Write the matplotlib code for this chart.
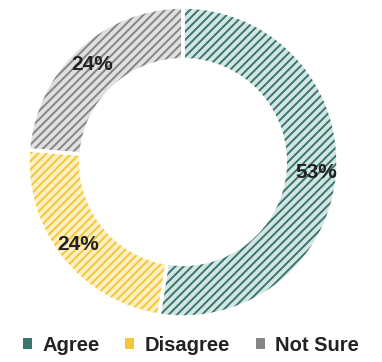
import matplotlib
matplotlib.use('Agg')
import matplotlib.pyplot as plt
import numpy as np

# survey answer shares (percent)
categories = ['Agree', 'Disagree', 'Not Sure']
shares = [53, 24, 24]
face_cols = ['#d3e6e3', '#fdf0c4', '#e0e0e0']
hatch_cols = ['#3a766e', '#f5c638', '#858585']

plt.rcParams['font.family'] = ['Liberation Sans Narrow', 'Liberation Sans', 'DejaVu Sans']
plt.rcParams['hatch.linewidth'] = 1.4

fig = plt.figure(figsize=(3.82, 3.62), dpi=100, facecolor='white')
ax = fig.add_axes([28 / 382, 45 / 362, 310 / 382, 310 / 362])

# hatched ring
wedges, _ = ax.pie(shares, colors=face_cols, startangle=90, counterclock=False,
                   wedgeprops=dict(width=0.34, linewidth=0))
for w, hc in zip(wedges, hatch_cols):
    w.set_hatch('////')
    w.set_edgecolor(hc)
    w.set_linewidth(0)

# white separators on top
ax.pie(shares, colors=['none'] * 3, startangle=90, counterclock=False,
       wedgeprops=dict(width=0.34, linewidth=2.5, edgecolor='white'))

# percent labels
total = sum(shares)
start = 90.0
for v in shares:
    ang = start - 360.0 * v / total / 2
    r = 0.86
    ax.text(r * np.cos(np.radians(ang)), r * np.sin(np.radians(ang)), f'{v}%',
            ha='center', va='center', fontsize=15, fontweight='bold', color='#222222')
    start -= 360.0 * v / total

ax.set_xlim(-1, 1)
ax.set_ylim(-1, 1)
ax.set_aspect('equal')
ax.axis('off')

handles = [plt.Rectangle((0, 0), 1, 1, facecolor=hc, edgecolor='none') for hc in hatch_cols]
fig.legend(handles, categories, loc='lower center', bbox_to_anchor=(0.5, -0.03), ncol=3,
           frameon=False, prop=dict(size=14.5, weight='bold'), handlelength=0.45,
           handleheight=0.45, handletextpad=0.5, columnspacing=1.3, labelcolor='#222222')

fig.savefig('out.png', dpi=100)
